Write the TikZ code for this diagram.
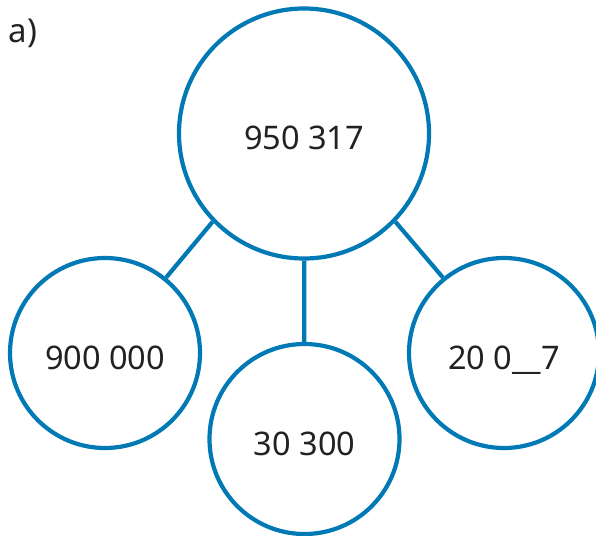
\documentclass[tikz,border=0pt]{standalone}
\usepackage{fontspec}
\setmainfont{Noto Sans}
\definecolor{ringblue}{HTML}{0079B5}
\definecolor{inkgray}{HTML}{222222}
\begin{document}
\begin{tikzpicture}[x=1pt,y=-1pt,
  ring/.style={circle,draw=ringblue,line width=4.2pt,inner sep=0pt,text=inkgray,
    font=\fontsize{32.5}{38}\selectfont,text height=32pt,text depth=0pt},
  big/.style={ring,minimum size=250pt},
  small/.style={ring,minimum size=190pt},
  link/.style={draw=ringblue,line width=4.2pt}]
\useasboundingbox (0,0) rectangle (596,535);
\node[anchor=center,text=inkgray,font=\fontsize{33}{38}\selectfont] (lbl) at (23,33) {a)};
\node[big] (top) at (304,133.5) {950 317};
\node[small] (left) at (105,353) {900 000};
\node[small] (mid) at (304.5,439) {30 300};
\node[small] (right) at (504,353) {20 0\_\_7};
\draw[link] (top.224) -- (left.51);
\draw[link] (top) -- (mid);
\draw[link] (top.316) -- (right.129);
\end{tikzpicture}
\end{document}
